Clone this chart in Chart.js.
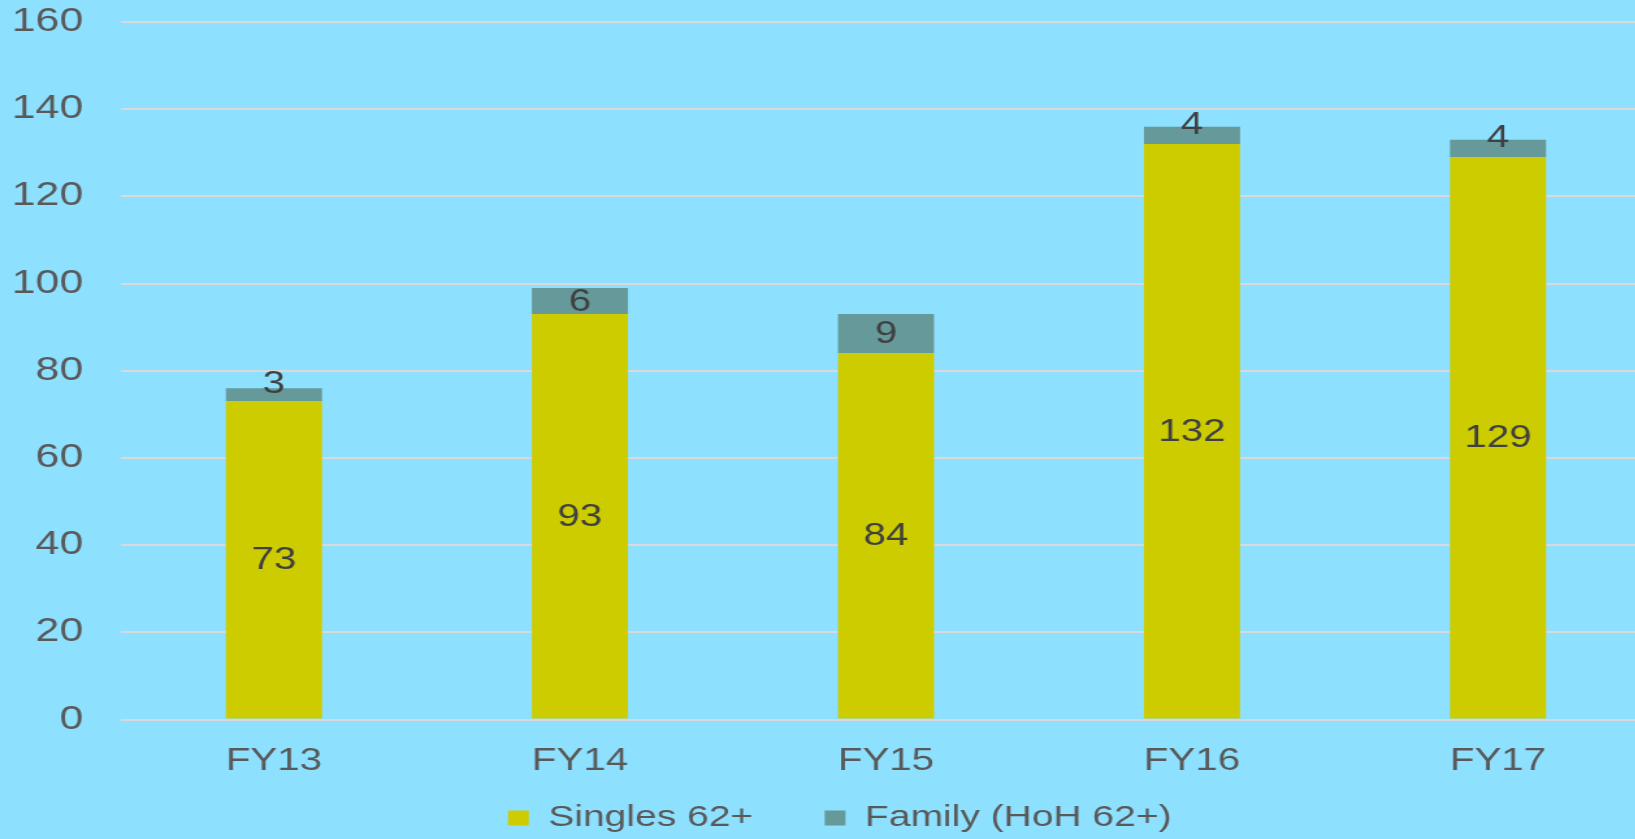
<!DOCTYPE html>
<html>
<head>
<meta charset="utf-8">
<script src="https://cdn.jsdelivr.net/npm/chart.js@4.4.1/dist/chart.umd.min.js"></script>
<style>
  html, body { margin: 0; padding: 0; background: #8EE0FF; overflow: hidden; }
</style>
</head>
<body>
<!-- drawn at 1270 wide and shown 1.3x wider, the picture's text is stretched like that -->
<canvas id="chart" width="1270" height="839" style="display:block;width:1651px;height:839px"></canvas>
<script>
// chart data
var years = ['FY13', 'FY14', 'FY15', 'FY16', 'FY17'];
var singles = [73, 93, 84, 132, 129];
var family = [3, 6, 9, 4, 4];
var yTicks = [0, 20, 40, 60, 80, 100, 120, 140, 160];

var fontName = '"Liberation Sans", Arial, sans-serif';

// value labels in the middle of each segment (thin ones sit a bit higher)
var barLabels = {
    id: 'barLabels',
    afterDatasetsDraw: function (chart) {
        var ctx = chart.ctx;
        ctx.save();
        ctx.font = '31px ' + fontName;
        ctx.fillStyle = '#404040';
        ctx.textAlign = 'center';
        ctx.textBaseline = 'middle';
        chart.data.datasets.forEach(function (ds, i) {
            chart.getDatasetMeta(i).data.forEach(function (bar, j) {
                var p = bar.getProps(['x', 'y', 'base'], true);
                var cy = (p.y + p.base) / 2 + 1;
                if (p.base - p.y < 24) cy -= 11;
                ctx.fillText(ds.data[j], p.x, cy);
            });
        });
        ctx.restore();
    }
};

// legend padding is big (gap between the two items), so put it back where it sits
var legendShift = {
    id: 'legendShift',
    afterLayout: function (chart) {
        var lg = chart.legend;
        var h = lg.bottom - lg.top;
        lg.left += 11; lg.right += 11;
        lg.top = 748;
        lg.bottom = lg.top + h;
    }
};

var ctx = document.querySelector('#chart').getContext('2d');
var chart = new Chart(ctx, {
    type: 'bar',
    data: {
        labels: years,
        datasets: [{
            label: 'Singles 62+',
            data: singles,
            backgroundColor: '#CCCC00',
            borderWidth: 0
        }, {
            label: 'Family (HoH 62+)',
            data: family,
            backgroundColor: '#669999',
            borderWidth: 0
        }]
    },
    options: {
        responsive: false,
        devicePixelRatio: 1,
        animation: false,
        layout: { padding: { top: 22, left: 0, right: 0, bottom: -35.5 } },
        datasets: {
            bar: { categoryPercentage: 1, barPercentage: 0.314 }
        },
        scales: {
            x: {
                stacked: true,
                grid: { display: false },
                border: { display: false },
                ticks: { color: '#595959', font: { family: fontName, size: 31 }, padding: 15 },
                afterFit: function (scale) { scale.height = 60; }
            },
            y: {
                stacked: true,
                min: 0,
                max: 160,
                afterBuildTicks: function (scale) {
                    scale.ticks = yTicks.map(function (v) { return { value: v }; });
                },
                grid: { color: '#D9D9D9', lineWidth: 2, drawTicks: false },
                border: { display: false },
                ticks: { color: '#595959', font: { family: fontName, size: 33 }, padding: 29 },
                afterFit: function (scale) {
                    scale.width = 93;
                    scale.paddingTop = 0;
                    scale.paddingBottom = 0;
                }
            }
        },
        plugins: {
            legend: {
                position: 'bottom',
                labels: {
                    color: '#595959',
                    font: { family: fontName, size: 30 },
                    boxWidth: 16,
                    boxHeight: 15,
                    padding: 55
                }
            },
            tooltip: { enabled: false }
        }
    },
    plugins: [barLabels, legendShift]
});
</script>
</body>
</html>
